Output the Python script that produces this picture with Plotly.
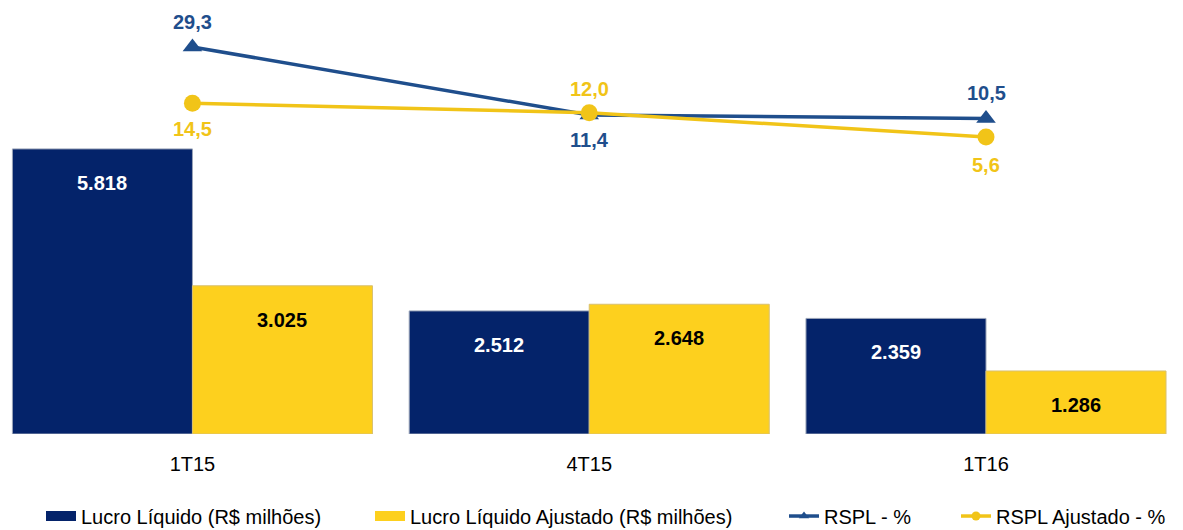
import plotly.graph_objects as go

# ---- data ----
categories = ["1T15", "4T15", "1T16"]
lucro_liquido = [5818, 2512, 2359]
lucro_ajustado = [3025, 2648, 1286]
rspl = [29.3, 11.4, 10.5]
rspl_ajustado = [14.5, 12.0, 5.6]

series_names = ["Lucro Líquido (R$ milhões)", "Lucro Líquido Ajustado (R$ milhões)",
                "RSPL - %", "RSPL Ajustado - %"]

# ---- style ----
NAVY = "#04236A"
YELLOW = "#FDD01E"
LINE_NAVY = "#1F4E8C"
LINE_YELLOW = "#F1C418"
FONT = "Liberation Sans, Arial, sans-serif"
BARGAP = 0.0926

def fmt_int(v):
    return f"{v:,}".replace(",", ".")

def fmt_dec(v):
    return f"{v:.1f}".replace(".", ",")

xi = list(range(len(categories)))
fig = go.Figure()

fig.add_trace(go.Bar(x=xi, y=lucro_liquido, name=series_names[0], showlegend=False,
                     marker=dict(color=NAVY, line=dict(color="#9AA4B8", width=1))))
fig.add_trace(go.Bar(x=xi, y=lucro_ajustado, name=series_names[1], showlegend=False,
                     marker=dict(color=YELLOW, line=dict(color="#D8C070", width=1))))

fig.add_trace(go.Scatter(x=xi, y=rspl, yaxis="y2", mode="lines+markers", showlegend=False,
                         line=dict(color=LINE_NAVY, width=3.5),
                         marker=dict(symbol="triangle-up", size=17, color=LINE_NAVY)))
fig.add_trace(go.Scatter(x=xi, y=rspl_ajustado, yaxis="y2", mode="lines+markers", showlegend=False,
                         line=dict(color=LINE_YELLOW, width=3.5),
                         marker=dict(symbol="circle", size=17, color=LINE_YELLOW)))

# legend entries (dummy traces, one legend each so that they can be placed freely)
leg_style = [
    dict(mode="lines", line=dict(color=NAVY, width=10)),
    dict(mode="lines", line=dict(color=YELLOW, width=10)),
    dict(mode="lines+markers", line=dict(color=LINE_NAVY, width=3.5),
         marker=dict(symbol="triangle-up", size=9, color=LINE_NAVY)),
    dict(mode="lines+markers", line=dict(color=LINE_YELLOW, width=3.5),
         marker=dict(symbol="circle", size=9, color=LINE_YELLOW)),
]
leg_ids = ["legend", "legend2", "legend3", "legend4"]
for name, st, lid in zip(series_names, leg_style, leg_ids):
    fig.add_trace(go.Scatter(x=[None], y=[None], name=name, legend=lid, showlegend=True, **st))

half = (1 - BARGAP) / 4
ann = []
for i in xi:
    ann.append(dict(x=i - half, y=lucro_liquido[i], xref="x", yref="y", text=fmt_int(lucro_liquido[i]),
                    showarrow=False, yshift=-34, font=dict(family=FONT, size=20, color="white", weight="bold")))
    ann.append(dict(x=i + half, y=lucro_ajustado[i], xref="x", yref="y", text=fmt_int(lucro_ajustado[i]),
                    showarrow=False, yshift=-34, font=dict(family=FONT, size=20, color="black", weight="bold")))
# line labels: above/below as in reference
rspl_shift = [25, -25, 25]
adj_shift = [-26, 24, -28]
for i in xi:
    ann.append(dict(x=i, y=rspl[i], xref="x", yref="y2", text=fmt_dec(rspl[i]), showarrow=False,
                    yshift=rspl_shift[i], font=dict(family=FONT, size=20, color=LINE_NAVY, weight="bold")))
    ann.append(dict(x=i, y=rspl_ajustado[i], xref="x", yref="y2", text=fmt_dec(rspl_ajustado[i]), showarrow=False,
                    yshift=adj_shift[i], font=dict(family=FONT, size=20, color=LINE_YELLOW, weight="bold")))

leg_common = dict(orientation="h", yanchor="middle", y=-0.189, xanchor="left",
                  font=dict(family=FONT, size=20, color="black"), bgcolor="rgba(0,0,0,0)",
                  itemwidth=30, tracegroupgap=0)
text_starts = [83, 412, 826, 998]
legends = {}
for lid, ts in zip(leg_ids, text_starts):
    legends[lid] = dict(leg_common, x=(ts - 42) / 1183)

fig.update_layout(
    width=1183, height=530,
    margin=dict(l=0, r=0, t=0, b=96, autoexpand=False),
    paper_bgcolor="white", plot_bgcolor="white",
    barmode="group", bargap=BARGAP, bargroupgap=0,
    xaxis=dict(tickvals=xi, ticktext=categories, range=[-0.485, 2.4965],
               showgrid=False, zeroline=False, showline=False, ticks="",
               ticklabelstandoff=16, automargin=False,
               tickfont=dict(family=FONT, size=20, color="black")),
    yaxis=dict(range=[0, 8857], visible=False, showgrid=False),
    yaxis2=dict(range=[-72.55, 41.66], overlaying="y", visible=False, showgrid=False),
    annotations=ann,
    **legends,
)

fig.write_html("out.html")
